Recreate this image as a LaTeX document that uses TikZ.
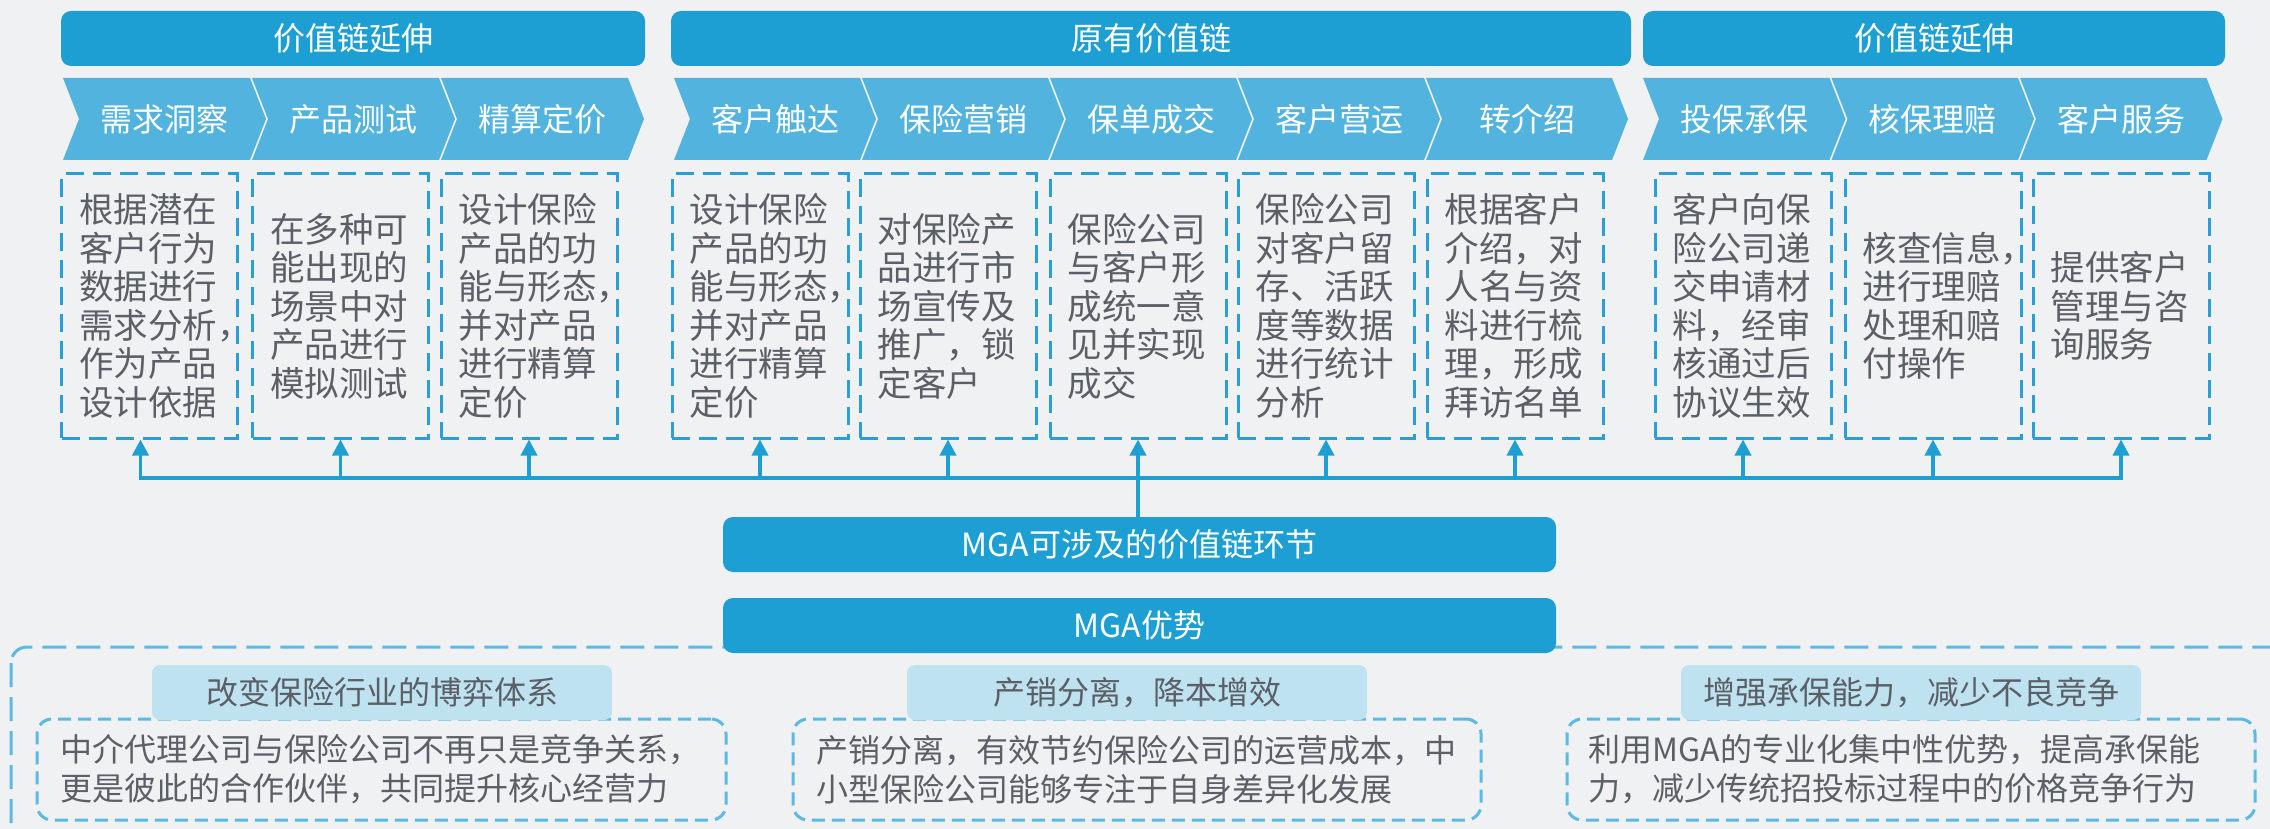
\documentclass[tikz,border=0pt]{standalone}
\usepackage{fontspec}
\setmainfont{Noto Sans CJK SC}
\usetikzlibrary{arrows.meta}
\definecolor{bg}{HTML}{F0F1F3}
\definecolor{hdr}{HTML}{1E9FD4}
\definecolor{chev}{HTML}{52B3DF}
\definecolor{dsh}{HTML}{2A9FD7}
\definecolor{odsh}{HTML}{5BB9E4}
\definecolor{tabc}{HTML}{BFE2F1}
\definecolor{txt}{HTML}{5B5F66}
\newcommand\mychev[4]{%
  \fill[chev] (#2,78) -- ++(#3,0) -- ++(16,41) -- ++(-16,41) -- ++(-#3,0) -- ++(16,-41) -- cycle;
  \node[chevtxt] (#1) at (#2+#3/2+8,119) {#4};}
\begin{document}
\begin{tikzpicture}[x=1pt,y=-1pt,
  hdrbox/.style={fill=hdr,rounded corners=10pt,inner sep=0pt,minimum height=55pt,text=white,font=\fontsize{32}{36}\selectfont},
  chevtxt/.style={text=white,inner sep=0pt,font=\fontsize{32}{36}\selectfont},
  dbox/.style={draw=dsh,line width=3pt,dash pattern=on 18pt off 9pt,minimum width=176pt,minimum height=264pt,inner sep=0pt},
  dtxt/.style={anchor=west,align=left,text=txt,inner sep=0pt,font=\fontsize{34.5}{38.5}\selectfont},
  conn/.style={draw=hdr,line width=3.5pt},
  arr/.style={conn,-{Triangle[length=16pt,width=16pt]}},
  mgabox/.style={fill=hdr,rounded corners=10pt,inner sep=0pt,minimum width=833pt,minimum height=55pt,text=white,font=\fontsize{32}{36}\selectfont},
  tabbox/.style={fill=tabc,rounded corners=8pt,inner sep=0pt,minimum width=460pt,minimum height=55pt,text=txt,font=\fontsize{32}{36}\selectfont},
  cbox/.style={draw=odsh,line width=3pt,dash pattern=on 13pt off 7pt,rounded corners=15pt,minimum height=101pt,inner sep=0pt},
  ctxt/.style={anchor=west,align=left,text=txt,inner sep=0pt,font=\fontsize{32}{39}\selectfont}]
\useasboundingbox (0,0) rectangle (2270,829);
\clip (0,0) rectangle (2270,829);
\fill[bg] (0,0) rectangle (2270,829);

% headers
\node[hdrbox,minimum width=584pt] (h1) at (353,38.5) {价值链延伸};
\node[hdrbox,minimum width=960pt] (h2) at (1151,38.5) {原有价值链};
\node[hdrbox,minimum width=582pt] (h3) at (1934,38.5) {价值链延伸};

% chevrons
\mychev{c1}{63}{187}{需求洞察}
\mychev{c2}{252}{187}{产品测试}
\mychev{c3}{441}{187}{精算定价}
\mychev{c4}{674}{186}{客户触达}
\mychev{c5}{862}{186}{保险营销}
\mychev{c6}{1050}{186}{保单成交}
\mychev{c7}{1238}{186}{客户营运}
\mychev{c8}{1426}{186}{转介绍}
\mychev{c9}{1643}{186.5}{投保承保}
\mychev{c10}{1831.5}{186.5}{核保理赔}
\mychev{c11}{2020}{186.5}{客户服务}

% description boxes
\node[dbox] (d1) at (149.5,306) {};
\node[dbox] (d2) at (340.5,306) {};
\node[dbox] (d3) at (529,306) {};
\node[dbox] (d4) at (760,306) {};
\node[dbox] (d5) at (948,306) {};
\node[dbox] (d6) at (1138,306) {};
\node[dbox] (d7) at (1326,306) {};
\node[dbox] (d8) at (1515,306) {};
\node[dbox] (d9) at (1743,306) {};
\node[dbox] (d10) at (1933,306) {};
\node[dbox] (d11) at (2121,306) {};

\node[dtxt] (t1) at ([xshift=19pt]d1.west) {根据潜在\\客户行为\\数据进行\\需求分析，\\作为产品\\设计依据};
\node[dtxt] (t2) at ([xshift=19pt]d2.west) {在多种可\\能出现的\\场景中对\\产品进行\\模拟测试};
\node[dtxt] (t3) at ([xshift=19pt]d3.west) {设计保险\\产品的功\\能与形态，\\并对产品\\进行精算\\定价};
\node[dtxt] (t4) at ([xshift=19pt]d4.west) {设计保险\\产品的功\\能与形态，\\并对产品\\进行精算\\定价};
\node[dtxt] (t5) at ([xshift=19pt]d5.west) {对保险产\\品进行市\\场宣传及\\推广，锁\\定客户};
\node[dtxt] (t6) at ([xshift=19pt]d6.west) {保险公司\\与客户形\\成统一意\\见并实现\\成交};
\node[dtxt] (t7) at ([xshift=19pt]d7.west) {保险公司\\对客户留\\存、活跃\\度等数据\\进行统计\\分析};
\node[dtxt] (t8) at ([xshift=19pt]d8.west) {根据客户\\介绍，对\\人名与资\\料进行梳\\理，形成\\拜访名单};
\node[dtxt] (t9) at ([xshift=19pt]d9.west) {客户向保\\险公司递\\交申请材\\料，经审\\核通过后\\协议生效};
\node[dtxt] (t10) at ([xshift=19pt]d10.west) {核查信息，\\进行理赔\\处理和赔\\付操作};
\node[dtxt] (t11) at ([xshift=19pt]d11.west) {提供客户\\管理与咨\\询服务};

% outer dashed frame
\draw[odsh,line width=3pt,dash pattern=on 24pt off 10pt,rounded corners=16pt] (11,647) rectangle (2320,900);

% MGA boxes
\node[mgabox] (m1) at (1139.5,544.5) {MGA可涉及的价值链环节};
\node[mgabox] (m2) at (1139.5,625.5) {MGA优势};

% connectors
\coordinate (bus) at (0,478);
\draw[conn,line cap=rect] ([xshift=-9pt]d1.south |- bus) -- (d11.south |- bus);
\draw[arr] ([xshift=-9pt]d1.south |- bus) -- ([xshift=-9pt]d1.south);
\foreach \n in {d2,d3,d4,d5,d7,d8,d9,d10,d11}
  \draw[arr] (\n.south |- bus) -- (\n.south);
\draw[arr] (m1.north -| d6.south) -- (d6.south);

% bottom content boxes
\node[cbox,minimum width=689pt] (cb1) at (381.5,769.5) {};
\node[cbox,minimum width=688pt] (cb2) at (1137,769.5) {};
\node[cbox,minimum width=688pt] (cb3) at (1911,769.5) {};

\node[tabbox] (tb1) at (382,692.5) {改变保险行业的博弈体系};
\node[tabbox] (tb2) at (1137,692.5) {产销分离，降本增效};
\node[tabbox] (tb3) at (1911,692.5) {增强承保能力，减少不良竞争};

\node[ctxt] (ct1) at ([xshift=25pt]cb1.west) {中介代理公司与保险公司不再只是竞争关系，\\更是彼此的合作伙伴，共同提升核心经营力};
\node[ctxt] (ct2) at ([xshift=25pt]cb2.west) {产销分离，有效节约保险公司的运营成本，中\\小型保险公司能够专注于自身差异化发展};
\node[ctxt] (ct3) at ([xshift=23pt]cb3.west) {利用MGA的专业化集中性优势，提高承保能\\力，减少传统招投标过程中的价格竞争行为};
\end{tikzpicture}
\end{document}
